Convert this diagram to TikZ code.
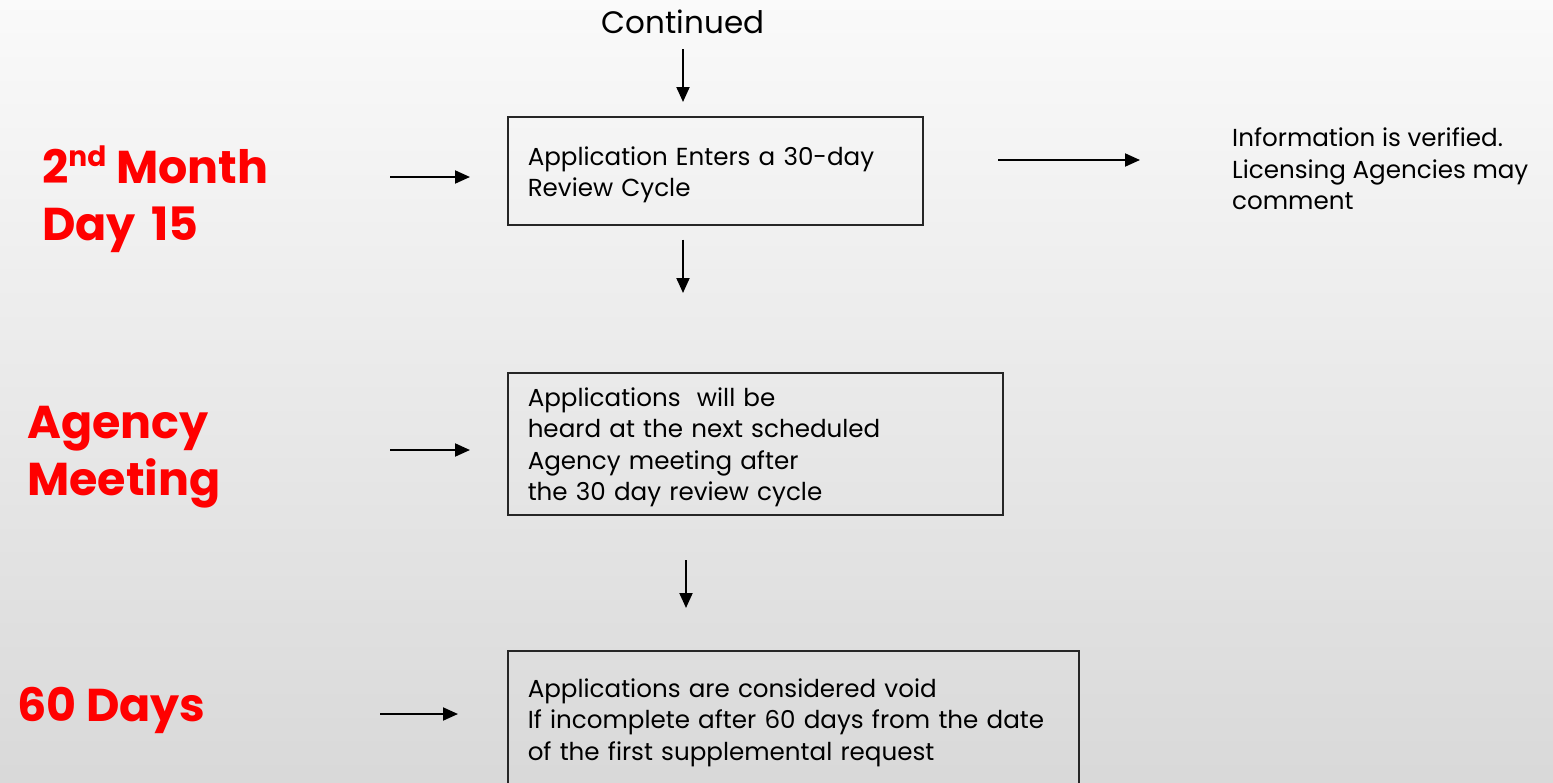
\documentclass[tikz,border=0pt]{standalone}
\usepackage{fontspec}
\setmainfont{Poppins}
\usetikzlibrary{arrows.meta}
\begin{document}
\begin{tikzpicture}[x=1pt,y=-1pt,
  arr/.style={line width=2pt,-{Triangle[length=15pt,width=13pt]}},
  box/.style={draw=black!85,line width=1.5pt,anchor=north west,align=left,
    inner xsep=20pt,inner ysep=0pt,font=\fontsize{24.6}{31.5}\selectfont},
  redlab/.style={text=red,font=\bfseries\fontsize{46}{57}\selectfont,align=left,
    inner sep=0pt,anchor=north west},
  plain/.style={font=\fontsize{24.6}{31.5}\selectfont,align=left,inner sep=0pt}]
\clip (0,0) rectangle (1553,782);
\shade[top color=black!2, bottom color=black!15] (0,0) rectangle (1553,782);

% top label
\node[plain,anchor=north] (cont) at (683,10) {\fontsize{31}{32}\selectfont Continued};

% boxes
\node[box,minimum width=415pt,minimum height=108pt,text width=375pt] (b1) at (507,116)
  {\rule{0pt}{26.5pt}Application Enters a 30-day\\Review Cycle};
\node[box,minimum width=495pt,minimum height=142pt,text width=455pt] (b2) at (507,372)
  {\rule{0pt}{25.5pt}Applications\ \ will be\\heard at the next scheduled\\Agency meeting after\\the 30 day review cycle};
\node[box,minimum width=571pt,minimum height=144pt,text width=531pt] (b3) at (507,650)
  {Applications are considered void\\If incomplete after 60 days from the date\\of the first supplemental request};

% side text
\node[plain,anchor=north west] (info) at (1232,128)
  {Information is verified.\\Licensing Agencies may\\comment};

% red labels
\node[redlab] (m1) at (42,146)
  {2\raisebox{17pt}{\fontsize{28}{28}\selectfont nd} Month\\Day\,\,15};
\node[redlab] (m2) at (27,406) {Agency\\Meeting};
\node[redlab] (m3) at (17,687) {60 Days};

% connectors
\draw[arr,shorten <=15pt,shorten >=14pt] (cont.south) -- (cont.south |- b1.north);
\draw[arr,shorten <=14pt,shorten >=79pt] (cont.south |- b1.south) -- (cont.south |- b2.north);
\coordinate (v2) at (686,514);
\draw[arr,shorten <=46pt,shorten >=42pt] (v2) -- (v2 |- b3.north);

\coordinate (h1) at (390,177);
\draw[arr,shorten >=37pt] (h1) -- (h1 -| b1.west);
\coordinate (h2) at (390,450);
\draw[arr,shorten >=37pt] (h2) -- (h2 -| b2.west);
\coordinate (h3) at (380,714);
\draw[arr,shorten >=49pt] (h3) -- (h3 -| b3.west);
\coordinate (r1) at (998,160);
\draw[arr,shorten >=92pt] (r1) -- (r1 -| info.west);
\end{tikzpicture}
\end{document}
